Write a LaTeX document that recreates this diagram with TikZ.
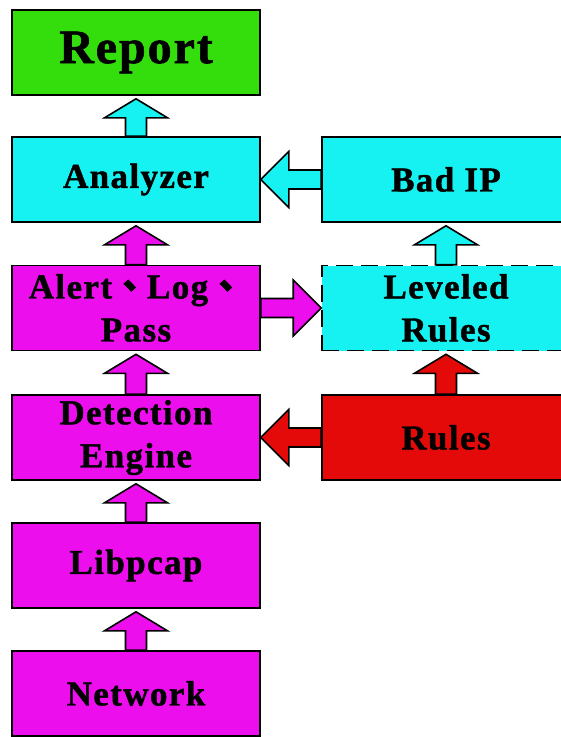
\documentclass[tikz,border=0pt]{standalone}
\usepackage{fontspec}
\setmainfont{Liberation Serif}[LetterSpace=4, BoldFeatures={FakeBold=1.2}]
\newfontfamily\cjk{Noto Sans CJK TC}[FakeBold=1.5]
\usetikzlibrary{calc}
\definecolor{boxmagenta}{RGB}{236,14,236}
\definecolor{boxcyan}{RGB}{22,242,242}
\definecolor{boxgreen}{RGB}{52,222,12}
\definecolor{boxred}{RGB}{228,10,10}
\tikzset{
  stagebox/.style={draw, line width=1.6pt, minimum width=248pt, minimum height=85pt,
    inner sep=0pt, align=center, font=\bfseries\fontsize{35}{43}\selectfont},
  blockarrow/.style={draw, line width=1.6pt, line join=miter},
}
% upward block arrow from the top of #2 to just below #3
\newcommand\arrowup[3]{%
  \filldraw[blockarrow, fill=#1] let \p1=(#2.north), \p2=(#3.south) in
    (\x1-10.5pt,\y1) -- (\x1-10.5pt,\y2-22pt) -- (\x1-31.5pt,\y2-22pt) --
    (\x1,\y2-3pt) -- (\x1+31.5pt,\y2-22pt) -- (\x1+10.5pt,\y2-22pt) --
    (\x1+10.5pt,\y1) -- cycle;}
% leftward block arrow from the left side of #2 to the right side of #3
\newcommand\arrowleft[3]{%
  \filldraw[blockarrow, fill=#1] let \p1=(#2.west), \p2=(#3.east) in
    (\x1,\y1+9.5pt) -- (\x2+28pt,\y1+9.5pt) -- (\x2+28pt,\y1+28pt) --
    (\x2,\y1) -- (\x2+28pt,\y1-28pt) -- (\x2+28pt,\y1-9.5pt) --
    (\x1,\y1-9.5pt) -- cycle;}
% rightward block arrow from the right side of #2 to the left side of #3
\newcommand\arrowright[3]{%
  \filldraw[blockarrow, fill=#1] let \p1=(#2.east), \p2=(#3.west) in
    (\x1,\y1+9.5pt) -- (\x2-28pt,\y1+9.5pt) -- (\x2-28pt,\y1+28pt) --
    (\x2,\y1) -- (\x2-28pt,\y1-28pt) -- (\x2-28pt,\y1-9.5pt) --
    (\x1,\y1-9.5pt) -- cycle;}
\begin{document}
\begin{tikzpicture}[x=1pt,y=1pt]
\useasboundingbox (0,0) rectangle (561,-737);
\fill[white] (0,0) rectangle (561,-737);

% left column
\node[stagebox, fill=boxgreen, font=\bfseries\fontsize{48}{50}\selectfont] (report) at (136,-52.5) {Report};
\node[stagebox, fill=boxcyan] (analyzer) at (136,-179.5) {Analyzer};
\node[stagebox, fill=boxmagenta] (alert) at (136,-308) {Alert{\cjk 、}Log{\cjk 、}\\Pass};
\node[stagebox, fill=boxmagenta] (detect) at (136,-437.5) {Detection\\Engine};
\node[stagebox, fill=boxmagenta] (libpcap) at (136,-565.5) {Libpcap};
\node[stagebox, fill=boxmagenta] (network) at (136,-693.5) {Network};

% right column
\node[stagebox, fill=boxcyan] (badip) at (446,-179.5) {Bad IP};
\node[stagebox, fill=boxcyan, dash pattern=on 17pt off 8pt] (leveled) at (446,-308) {Leveled\\Rules};
\node[stagebox, fill=boxred] (rules) at (446,-437.5) {Rules};

% data flow
\arrowup{boxcyan}{analyzer}{report}
\arrowup{boxmagenta}{alert}{analyzer}
\arrowup{boxmagenta}{detect}{alert}
\arrowup{boxmagenta}{libpcap}{detect}
\arrowup{boxmagenta}{network}{libpcap}
\arrowup{boxcyan}{leveled}{badip}
\arrowup{boxred}{rules}{leveled}
\arrowleft{boxcyan}{badip}{analyzer}
\arrowleft{boxred}{rules}{detect}
\arrowright{boxmagenta}{alert}{leveled}
\end{tikzpicture}
\end{document}
